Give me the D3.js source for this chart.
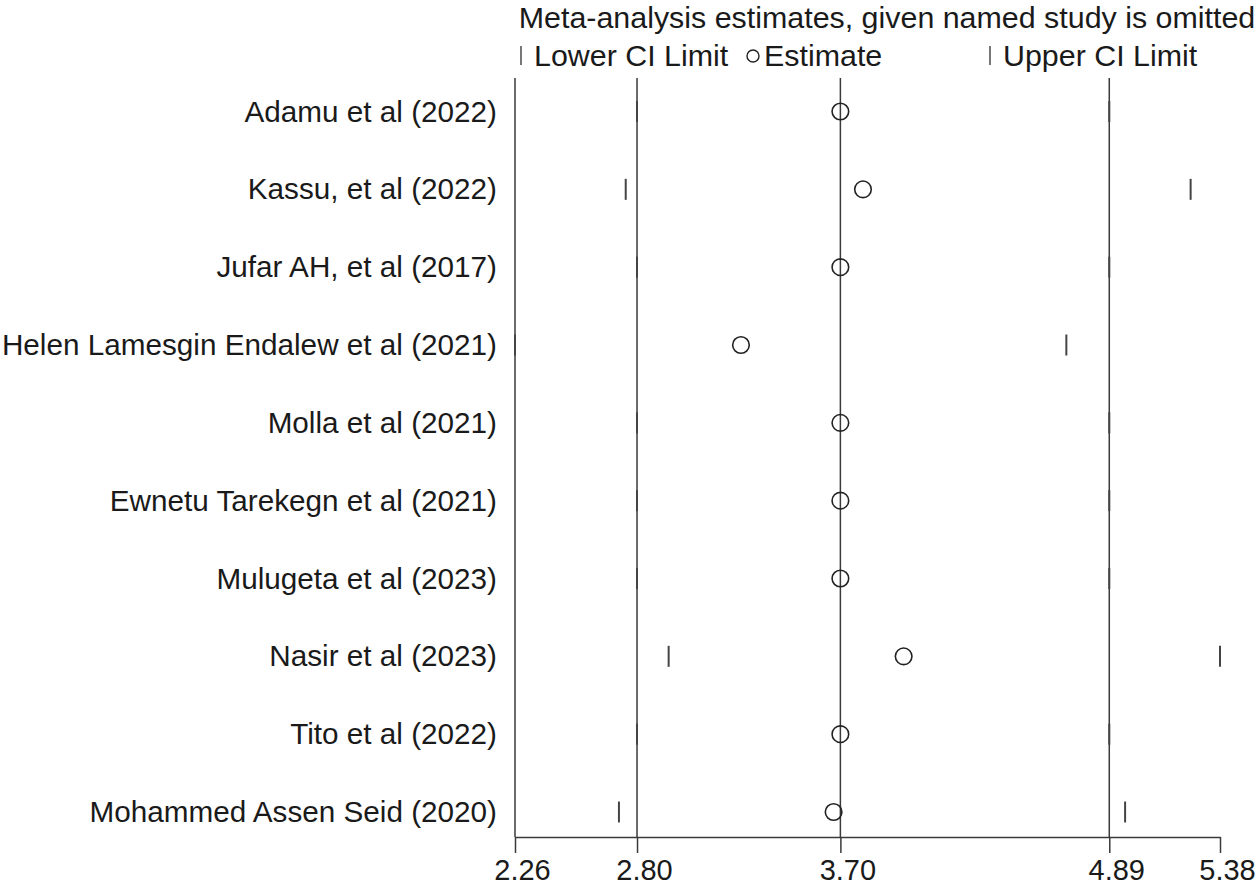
<!DOCTYPE html>
<html>
<head>
<meta charset="utf-8">
<script src="https://cdn.jsdelivr.net/npm/d3@7"></script>
<style>
  html, body { margin: 0; padding: 0; background: #fff; }
  svg { display: block; }
  text { font-family: "Liberation Sans", Arial, sans-serif; fill: #1a1a1a; }
</style>
</head>
<body>
<svg id="chart" width="1260" height="891"></svg>
<script>
// ---- data ----
const studies = [
  "Adamu et al (2022)",
  "Kassu, et al (2022)",
  "Jufar AH, et al (2017)",
  "Helen Lamesgin Endalew et al (2021)",
  "Molla et al (2021)",
  "Ewnetu Tarekegn et al (2021)",
  "Mulugeta et al (2023)",
  "Nasir et al (2023)",
  "Tito et al (2022)",
  "Mohammed Assen Seid (2020)"
];
const lowerCI  = [2.80, 2.75, 2.80, 2.26, 2.80, 2.80, 2.80, 2.94, 2.80, 2.72];
const estimate = [3.70, 3.80, 3.70, 3.26, 3.70, 3.70, 3.70, 3.98, 3.70, 3.67];
const upperCI  = [4.89, 5.25, 4.89, 4.70, 4.89, 4.89, 4.89, 5.38, 4.89, 4.96];
const overall  = [2.80, 3.70, 4.89];          // overall lower, estimate, upper
const xTicks   = [2.26, 2.80, 3.70, 4.89, 5.38];
const xDomain  = [2.26, 5.38];
const titleText = "Meta-analysis estimates, given named study is omitted";
const legendLabels = ["Lower CI Limit", "Estimate", "Upper CI Limit"];

// ---- layout ----
const svg = d3.select("#chart");
const plotLeft = 515, plotRight = 1220, plotTop = 78, plotBottom = 837;
const lineColor = "#3a3a3a";
const titleSize = 30.4, labelSize = 29.7, tickSize = 29;

const x = d3.scaleLinear().domain(xDomain).range([plotLeft, plotRight]);
const y = d3.scalePoint().domain(studies).range([111.5, 812]);

const rows = studies.map((s, i) => ({ s, lo: lowerCI[i], est: estimate[i], hi: upperCI[i] }));

// title
svg.append("text")
  .attr("x", 887).attr("y", 28)
  .attr("text-anchor", "middle")
  .style("font-size", titleSize + "px")
  .text(titleText);

// legend
const legY = 66;
const leg = svg.append("g");
leg.append("line").attr("x1", 521).attr("x2", 521).attr("y1", legY - 20).attr("y2", legY - 1)
  .attr("stroke", "#555").attr("stroke-width", 1.6);
leg.append("text").attr("x", 534).attr("y", legY).style("font-size", titleSize + "px").text(legendLabels[0]);
leg.append("circle").attr("cx", 753).attr("cy", legY - 10).attr("r", 6)
  .attr("fill", "none").attr("stroke", "#222").attr("stroke-width", 1.4);
leg.append("text").attr("x", 764).attr("y", legY).style("font-size", titleSize + "px").text(legendLabels[1]);
leg.append("line").attr("x1", 990).attr("x2", 990).attr("y1", legY - 20).attr("y2", legY - 1)
  .attr("stroke", "#555").attr("stroke-width", 1.6);
leg.append("text").attr("x", 1003).attr("y", legY).style("font-size", titleSize + "px").text(legendLabels[2]);

// reference vertical lines (overall CI + estimate) and left axis line
svg.append("g").selectAll("line")
  .data([xDomain[0]].concat(overall))
  .join("line")
  .attr("x1", d => x(d)).attr("x2", d => x(d))
  .attr("y1", plotTop).attr("y2", plotBottom)
  .attr("stroke", lineColor).attr("stroke-width", 1.5);

// x axis
const xAxis = d3.axisBottom(x)
  .tickValues(xTicks)
  .tickFormat(d3.format(".2f"))
  .tickSize(16)
  .tickSizeOuter(0)
  .tickPadding(6);
const gx = svg.append("g").attr("transform", `translate(0,${plotBottom})`).call(xAxis);
gx.select(".domain").attr("stroke", lineColor).attr("stroke-width", 1.5);
gx.selectAll(".tick line").attr("stroke", lineColor).attr("stroke-width", 1.5);
gx.selectAll(".tick text")
  .attr("dx", 7)
  .style("font-size", tickSize + "px")
  .style("font-family", "'Liberation Sans', Arial, sans-serif")
  .attr("fill", "#1a1a1a");

// y axis labels
const yAxis = d3.axisLeft(y).tickSize(0).tickPadding(18);
const gy = svg.append("g").attr("transform", `translate(${plotLeft},0)`).call(yAxis);
gy.select(".domain").remove();
gy.selectAll(".tick text")
  .style("font-size", labelSize + "px")
  .style("font-family", "'Liberation Sans', Arial, sans-serif")
  .attr("fill", "#1a1a1a");

// CI limit marks
const tickHalf = 10.5;
const marks = svg.append("g");
marks.selectAll("line.lo").data(rows).join("line").attr("class", "lo")
  .attr("x1", d => x(d.lo)).attr("x2", d => x(d.lo))
  .attr("y1", d => y(d.s) - tickHalf).attr("y2", d => y(d.s) + tickHalf)
  .attr("stroke", "#444").attr("stroke-width", 2);
marks.selectAll("line.hi").data(rows).join("line").attr("class", "hi")
  .attr("x1", d => x(d.hi)).attr("x2", d => x(d.hi))
  .attr("y1", d => y(d.s) - tickHalf).attr("y2", d => y(d.s) + tickHalf)
  .attr("stroke", "#444").attr("stroke-width", 2);

// estimates
marks.selectAll("circle").data(rows).join("circle")
  .attr("cx", d => x(d.est)).attr("cy", d => y(d.s))
  .attr("r", 8.3)
  .attr("fill", "none")
  .attr("stroke", "#222").attr("stroke-width", 1.6);
</script>
</body>
</html>
